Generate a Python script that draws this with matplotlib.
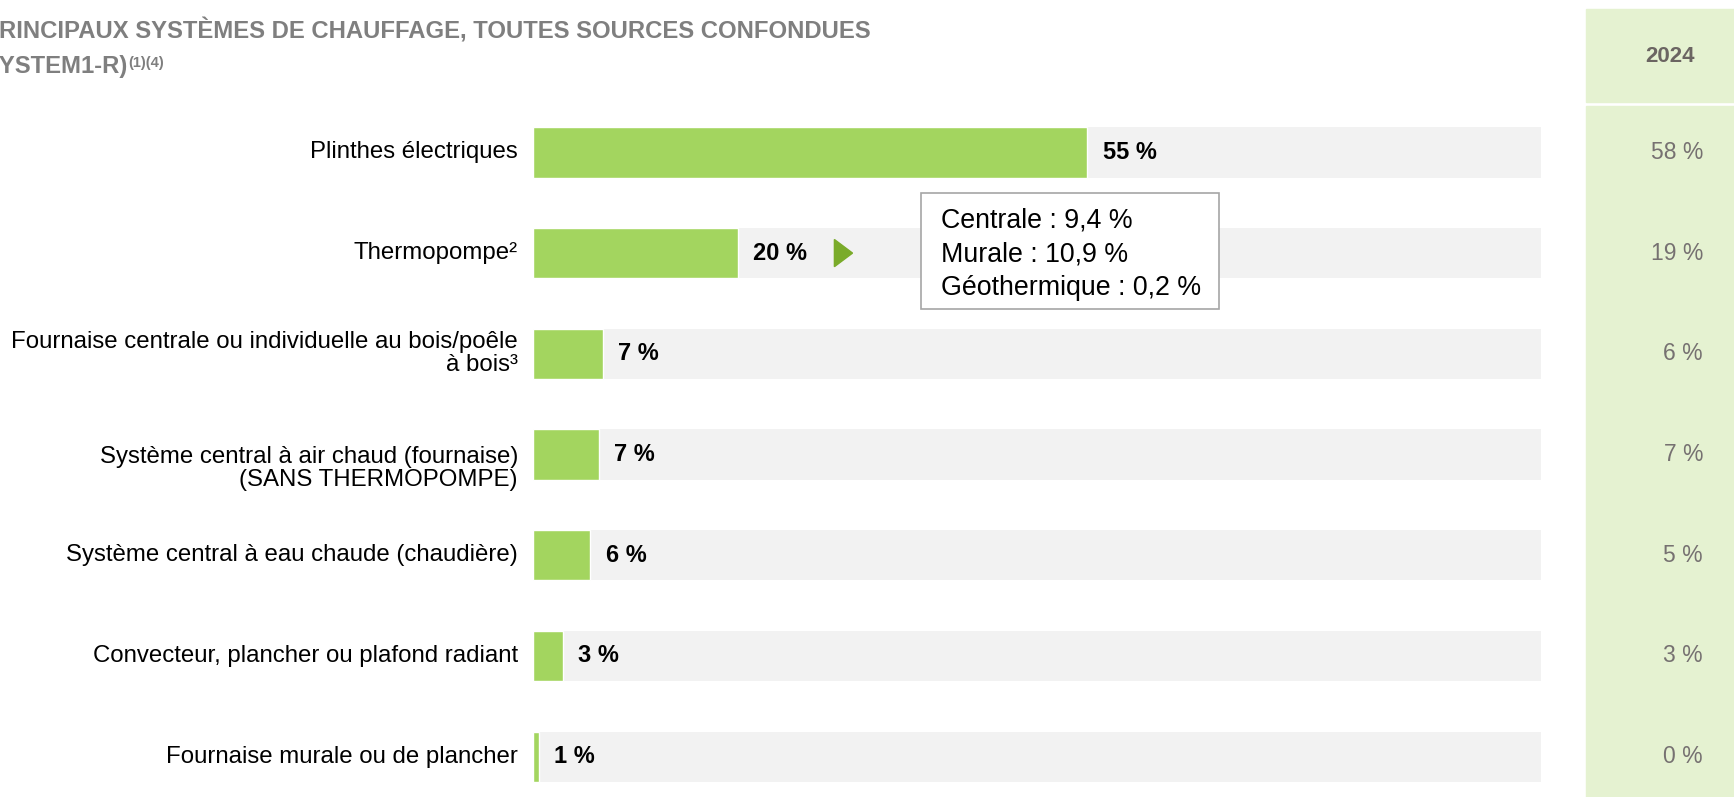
"""
Principaux systèmes de chauffage - barres horizontales avec colonne 2024
"""
import numpy as np
import matplotlib.pyplot as plt
from matplotlib.patches import Rectangle, Polygon
from matplotlib.transforms import blended_transform_factory

plt.rcParams['font.family'] = ['Liberation Sans', 'DejaVu Sans']

categories = [
    "Plinthes électriques",
    "Thermopompe²",
    "Fournaise centrale ou individuelle au bois/poêle\nà bois³",
    "Système central à air chaud (fournaise)\n(SANS THERMOPOMPE)",
    "Système central à eau chaude (chaudière)",
    "Convecteur, plancher ou plafond radiant",
    "Fournaise murale ou de plancher",
]
values_2025 = [55.0, 20.3, 6.9, 6.5, 5.7, 3.0, 0.6]   # bar lengths
shown_2025 = [55, 20, 7, 7, 6, 3, 1]                  # printed labels
values_2024 = [58, 19, 6, 7, 5, 3, 0]
thermo_detail = ["Centrale : 9,4 %", "Murale : 10,9 %", "Géothermique : 0,2 %"]

W, H = 1734, 797
GREEN = "#a3d55f"
GREY_BG = "#f2f2f2"
PANEL = "#e5f2d1"


def fx(px):
    return px / W


def fy(py):
    return 1 - py / H


fig = plt.figure(figsize=(W / 100, H / 100), dpi=100)

ax = fig.add_axes([fx(533), 0, 1008 / W, (H - 102) / H])
ax.set_xlim(0, 100)
ax.set_ylim(6.4, -0.5)
ax.axis("off")

y = np.arange(len(categories))
ax.barh(y, [100] * len(y), height=0.5, color=GREY_BG, zorder=1)
ax.barh(y, values_2025, height=0.5, color=GREEN, edgecolor="white", linewidth=1, zorder=2)

for i, (cat, v, s) in enumerate(zip(categories, values_2025, shown_2025)):
    dy = 0.14 if "SANS" in cat else 0
    ax.text(-1.5, i + dy, cat, ha="right", va="center", fontsize=17.3,
            multialignment="right", linespacing=1.08, color="#000000", clip_on=False)
    ax.text(v + 1.5, i, f"{s} %", ha="left", va="center", fontsize=17,
            fontweight="bold", color="#000000", zorder=3)

# thermopompe detail: arrow + box
ti = 1
tx = values_2025[ti] + 9.6
ax.add_patch(Polygon([[tx, ti - 0.135], [tx, ti + 0.135], [tx + 1.8, ti]],
                     closed=True, color="#7aab2a", zorder=3))
ax.add_patch(Rectangle((38.5, 0.40), 29.6, 1.16, facecolor="white",
                       edgecolor="#a6a6a6", linewidth=1.2, zorder=4, clip_on=False))
for k, line in enumerate(thermo_detail):
    ax.text(40.5, 0.68 + k * 0.335, line, ha="left", va="center", fontsize=19.3,
            color="#000000", zorder=5)

# title (cropped at the left edge like the source)
title_color = "#7f7f7f"
fig.text(fx(-17), fy(39), "PRINCIPAUX SYSTÈMES DE CHAUFFAGE, TOUTES SOURCES CONFONDUES",
         fontsize=17.2, fontweight="bold", color=title_color, va="baseline", ha="left")
t2 = fig.text(fx(-24), fy(73), "(SYSTEM1-R)", fontsize=17.2, fontweight="bold",
              color=title_color, va="baseline", ha="left")
fig.canvas.draw()
bb = t2.get_window_extent()
fig.text(bb.x1 / W, fy(67), "(1)(4)", fontsize=10.5, fontweight="bold",
         color=title_color, va="baseline", ha="left")

# 2024 column
fig.patches.append(Rectangle((fx(1586), fy(102)), 148 / W, 93 / H,
                             transform=fig.transFigure, color=PANEL, zorder=0))
fig.patches.append(Rectangle((fx(1586), 0), 148 / W, fy(106),
                             transform=fig.transFigure, color=PANEL, zorder=0))
fig.text(fx(1670), fy(56), "2024", ha="center", va="center", fontsize=16,
         fontweight="bold", color="#6b6562")
tr = blended_transform_factory(fig.transFigure, ax.transData)
for i, v in enumerate(values_2024):
    fig.text(fx(1703), i, f"{v} %", transform=tr, ha="right", va="center",
             fontsize=16.5, color="#767171")

fig.savefig("out.png", dpi=100)
